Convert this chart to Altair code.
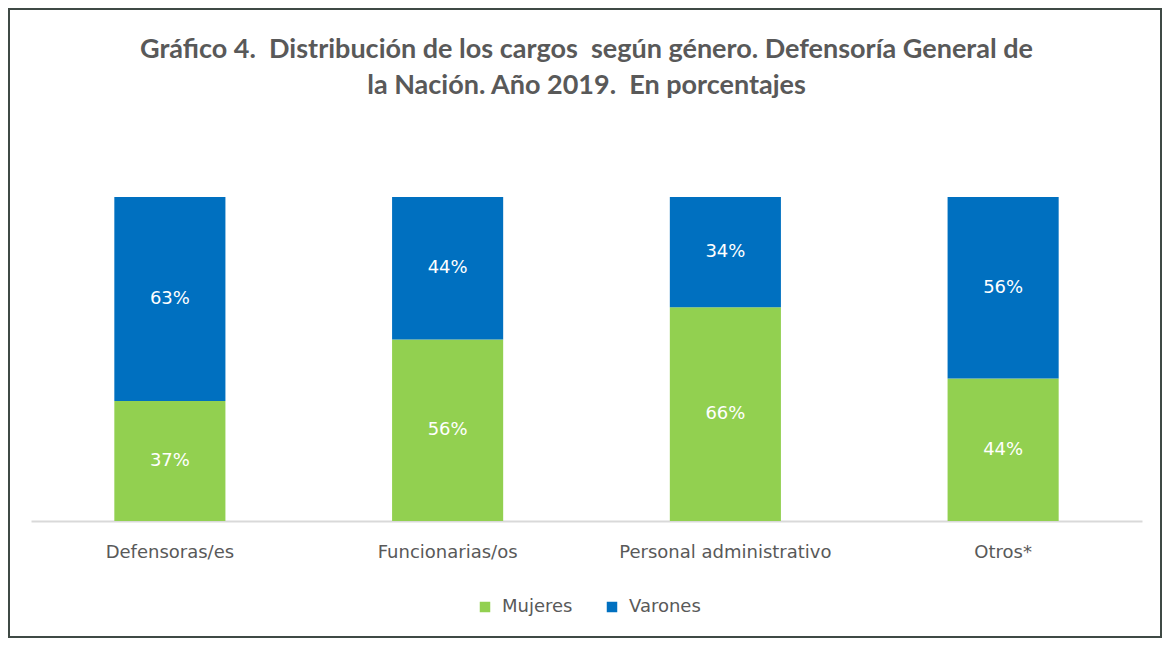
import altair as alt
import pandas as pd

categories = ["Defensoras/es", "Funcionarias/os", "Personal administrativo", "Otros*"]
mujeres = [37, 56, 66, 44]
varones = [63, 44, 34, 56]
series = ["Mujeres", "Varones"]
colors = ["#92D050", "#0070C0"]
NB = "\u00a0"
title_lines = [
    f"Gráfico 4.{NB} Distribución de los cargos{NB} según género. Defensoría General de",
    f"la Nación. Año 2019.{NB} En porcentajes",
]

rows = []
for c, m, v in zip(categories, mujeres, varones):
    rows.append({"cat": c, "genero": series[0], "val": m, "ord": 0})
    rows.append({"cat": c, "genero": series[1], "val": v, "ord": 1})
df = pd.DataFrame(rows)

W, H = 1111, 324
FONT = "DejaVu Sans"
GREY = "#595959"

xscale = alt.Scale(paddingInner=0.6, paddingOuter=0.3)
yscale = alt.Scale(domain=[0, 100])

x_enc = alt.X(
    "cat:N", sort=categories, scale=xscale,
    axis=alt.Axis(title=None, labelAngle=0, labelFontSize=18, labelColor=GREY,
                  labelFont=FONT, labelPadding=22, labelLimit=400,
                  domainColor="#D9D9D9", domainWidth=2, ticks=False, grid=False),
)

border = alt.Chart(pd.DataFrame({"a": [0]})).mark_rect(
    fillOpacity=0, stroke="#3F4A45", strokeWidth=2
).encode(
    x=alt.value(-22), x2=alt.value(1130), y=alt.value(-188), y2=alt.value(440)
)

bars = alt.Chart(df).mark_bar().encode(
    x=x_enc,
    y=alt.Y("val:Q", stack="zero", scale=yscale, axis=None),
    color=alt.Color(
        "genero:N",
        scale=alt.Scale(domain=series, range=colors),
        legend=alt.Legend(
            title=None, orient="none", legendX=445, legendY=401,
            direction="horizontal", symbolType="square", symbolSize=110,
            symbolStrokeWidth=0, labelFontSize=18, labelFont=FONT,
            labelColor=GREY, columnPadding=30, padding=0, labelOffset=8,
        ),
    ),
    order=alt.Order("ord:Q"),
)

labels = alt.Chart(df).transform_stack(
    stack="val", groupby=["cat"], sort=[alt.SortField("ord")], as_=["y0", "y1"]
).transform_calculate(
    mid="(datum.y0 + datum.y1) / 2", lab="datum.val + '%'"
).mark_text(color="white", fontSize=18, font=FONT, baseline="middle").encode(
    x=alt.X("cat:N", sort=categories, scale=xscale),
    y=alt.Y("mid:Q", scale=yscale),
    text="lab:N",
)

chart = alt.layer(border, bars, labels).properties(
    width=W, height=H,
    autosize="none",
    padding={"left": 23, "top": 189, "right": 20, "bottom": 117},
    title=alt.TitleParams(
        title_lines, fontSize=27, font="Lato", fontWeight="bold", color=GREY,
        anchor="middle", lineHeight=36, offset=-92,
    ),
).configure_view(stroke=None)

chart.save("out.html", embed_options={"renderer": "svg", "actions": False})
